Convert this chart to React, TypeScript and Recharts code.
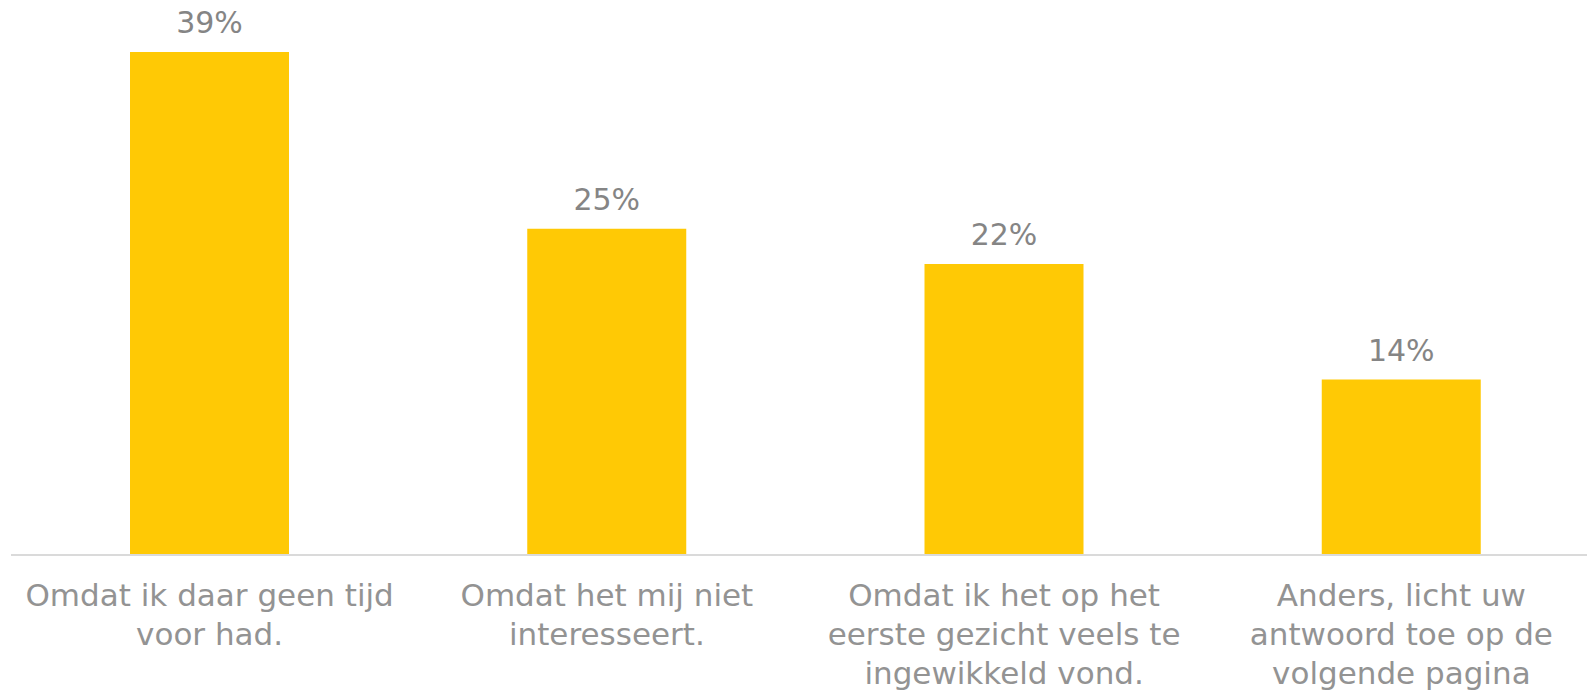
import { Bar, BarChart, LabelList, XAxis, YAxis } from "recharts"

const categories = [
  "Omdat ik daar geen tijd\nvoor had.",
  "Omdat het mij niet\ninteresseert.",
  "Omdat ik het op het\neerste gezicht veels te\ningewikkeld vond.",
  "Anders, licht uw\nantwoord toe op de\nvolgende pagina",
]
const shares = [39.0, 25.3, 22.55, 13.6]
const shareLabels = ["39%", "25%", "22%", "14%"]

const data = categories.map((name, i) => ({
  name,
  value: shares[i],
  label: shareLabels[i],
}))

const FONT = "'Century Gothic', 'DejaVu Sans', sans-serif"

function CategoryTick({ x, y, payload }: any) {
  const lines = String(payload.value).split("\n")
  return (
    <text
      x={x}
      y={y + 51}
      textAnchor="middle"
      fill="#939393"
      fontSize={31}
      fontFamily={FONT}
    >
      {lines.map((line, i) => (
        <tspan key={i} x={x} dy={i === 0 ? 0 : 39}>
          {line}
        </tspan>
      ))}
    </text>
  )
}

export default function App() {
  return (
    <div
      style={{
        position: "absolute",
        left: 0,
        top: 0,
        width: 1587,
        height: 694,
        overflow: "hidden",
        background: "#fff",
      }}
    >
      <BarChart
        width={1600}
        height={694}
        data={data}
        margin={{ top: 39, right: 0, bottom: 0, left: 11 }}
      >
        <XAxis
          dataKey="name"
          interval={0}
          height={139}
          tickLine={false}
          tickSize={0}
          tickMargin={0}
          axisLine={{ stroke: "#dadada", strokeWidth: 2 }}
          tick={<CategoryTick />}
        />
        <YAxis hide domain={[0, 40]} />
        <Bar dataKey="value" fill="#FFC905" barSize={159} isAnimationActive={false}>
          <LabelList
            dataKey="label"
            position="top"
            offset={19}
            fill="#858585"
            fontSize={30}
            fontFamily={FONT}
          />
        </Bar>
      </BarChart>
    </div>
  )
}
